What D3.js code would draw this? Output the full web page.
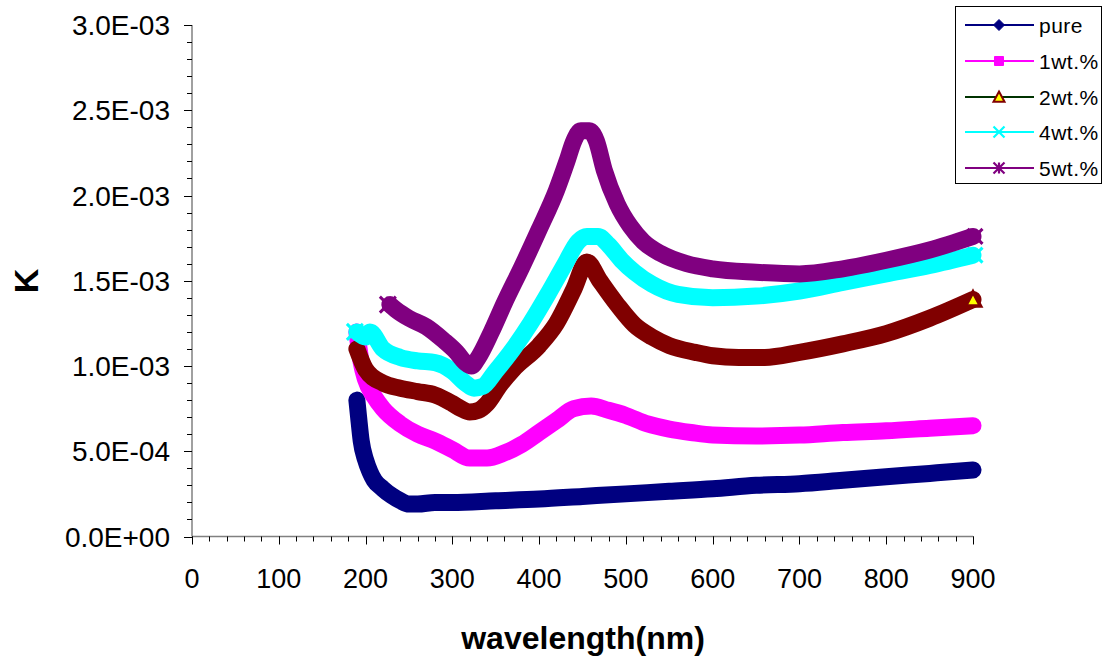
<!DOCTYPE html>
<html>
<head>
<meta charset="utf-8">
<script src="https://cdn.jsdelivr.net/npm/d3@7"></script>
<style>
  body { margin: 0; background: #fff; }
  svg { display: block; font-family: "Liberation Sans", Arial, sans-serif; }
</style>
</head>
<body>
<svg id="chart" width="1104" height="659"></svg>
<script>
// Extinction coefficient K (in units of 1E-03) against wavelength (nm)
const pureWl = [190, 192, 195, 200, 205, 210, 220, 230, 240, 250, 260, 280, 300, 350, 400, 450, 500, 550, 600, 650, 700, 750, 800, 850, 900];
const pureK  = [0.80, 0.70, 0.56, 0.45, 0.38, 0.33, 0.28, 0.24, 0.21, 0.19, 0.19, 0.20, 0.20, 0.21, 0.22, 0.235, 0.25, 0.265, 0.28, 0.30, 0.31, 0.33, 0.35, 0.37, 0.39];

const wt1Wl = [190, 195, 200, 210, 220, 240, 260, 280, 300, 320, 340, 360, 380, 400, 420, 440, 460, 480, 500, 525, 550, 575, 600, 650, 700, 750, 800, 850, 900];
const wt1K  = [1.20, 1.02, 0.92, 0.82, 0.75, 0.66, 0.60, 0.56, 0.51, 0.46, 0.46, 0.49, 0.54, 0.61, 0.68, 0.75, 0.765, 0.74, 0.71, 0.66, 0.63, 0.61, 0.595, 0.59, 0.595, 0.61, 0.62, 0.635, 0.65];

const wt2Wl = [190, 200, 220, 240, 260, 280, 300, 310, 320, 330, 340, 355, 370, 400, 420, 440, 455, 470, 490, 510, 530, 550, 580, 600, 630, 660, 700, 750, 800, 850, 900];
const wt2K  = [1.10, 0.98, 0.90, 0.87, 0.85, 0.83, 0.78, 0.75, 0.73, 0.74, 0.78, 0.89, 0.98, 1.12, 1.25, 1.45, 1.61, 1.50, 1.36, 1.24, 1.17, 1.12, 1.08, 1.06, 1.05, 1.05, 1.08, 1.13, 1.19, 1.28, 1.39];

const wt4Wl = [190, 200, 205, 220, 240, 260, 280, 300, 315, 325, 335, 350, 370, 390, 410, 430, 445, 455, 468, 480, 495, 510, 530, 560, 600, 650, 700, 750, 800, 850, 900];
const wt4K  = [1.20, 1.17, 1.20, 1.10, 1.05, 1.03, 1.02, 0.97, 0.90, 0.87, 0.88, 0.97, 1.10, 1.25, 1.42, 1.60, 1.73, 1.76, 1.76, 1.71, 1.62, 1.55, 1.48, 1.42, 1.40, 1.41, 1.44, 1.49, 1.54, 1.59, 1.65];

const wt5Wl = [228, 235, 250, 270, 290, 305, 315, 322, 330, 345, 360, 380, 400, 420, 432, 440, 448, 458, 466, 475, 490, 505, 520, 540, 570, 600, 650, 700, 750, 800, 850, 900];
const wt5K  = [1.36, 1.33, 1.28, 1.23, 1.15, 1.08, 1.02, 1.00, 1.05, 1.20, 1.37, 1.58, 1.80, 2.03, 2.20, 2.32, 2.38, 2.38, 2.32, 2.15, 1.95, 1.82, 1.73, 1.66, 1.60, 1.57, 1.55, 1.54, 1.57, 1.62, 1.68, 1.76];

const seriesNames = ["pure", "1wt.%", "2wt.%", "4wt.%", "5wt.%"];

const xTicks = [0, 100, 200, 300, 400, 500, 600, 700, 800, 900];
const xTickLabels = ["0", "100", "200", "300", "400", "500", "600", "700", "800", "900"];
const yTicks = [0, 0.0005, 0.001, 0.0015, 0.002, 0.0025, 0.003];
const yTickLabels = ["0.0E+00", "5.0E-04", "1.0E-03", "1.5E-03", "2.0E-03", "2.5E-03", "3.0E-03"];

// series styling
const styles = [
  { band: "#000080", line: "#000080", marker: "diamond",  mStroke: "#000080", mFill: "#000080" },
  { band: "#FF00FF", line: "#FF00FF", marker: "square",   mStroke: "#FF00FF", mFill: "#FF00FF" },
  { band: "#800000", line: "#003300", marker: "triangle", mStroke: "#800000", mFill: "#FFFF00" },
  { band: "#00FFFF", line: "#00FFFF", marker: "x",        mStroke: "#00FFFF", mFill: "none" },
  { band: "#800080", line: "#800080", marker: "star",     mStroke: "#800080", mFill: "none" }
];

const series = [
  { wl: pureWl, k: pureK },
  { wl: wt1Wl,  k: wt1K },
  { wl: wt2Wl,  k: wt2K },
  { wl: wt4Wl,  k: wt4K },
  { wl: wt5Wl,  k: wt5K }
].map((s, i) => ({
  name: seriesNames[i],
  style: styles[i],
  points: s.wl.map((w, j) => ({ x: w, y: s.k[j] * 1e-3 }))
}));

const svg = d3.select("#chart");

const x = d3.scaleLinear().domain([0, 900]).range([192, 973]);
const y = d3.scaleLinear().domain([0, 0.003]).range([536.5, 25]);

const axisColor = "#808080";

// minor ticks
const yMinor = d3.range(0, 0.0030001, 0.0001);
const xMinor = d3.range(0, 901, 20);

const gY = svg.append("g");
gY.append("line")
  .attr("x1", x(0)).attr("x2", x(0))
  .attr("y1", y(0.003)).attr("y2", y(0))
  .attr("stroke", axisColor).attr("stroke-width", 1.5);
gY.selectAll("line.minor").data(yMinor).join("line")
  .attr("class", "minor")
  .attr("x1", x(0) - 5).attr("x2", x(0))
  .attr("y1", d => Math.round(y(d)) + 0.5).attr("y2", d => Math.round(y(d)) + 0.5)
  .attr("stroke", "#000").attr("stroke-width", 1);
gY.selectAll("line.major").data(yTicks).join("line")
  .attr("class", "major")
  .attr("x1", x(0) - 8).attr("x2", x(0))
  .attr("y1", d => Math.round(y(d)) + 0.5).attr("y2", d => Math.round(y(d)) + 0.5)
  .attr("stroke", "#000").attr("stroke-width", 1);
gY.selectAll("text").data(yTicks).join("text")
  .attr("x", 170).attr("y", d => y(d))
  .attr("dy", "0.36em")
  .attr("text-anchor", "end")
  .attr("font-size", 28)
  .attr("fill", "#000")
  .text((d, i) => yTickLabels[i]);

const gX = svg.append("g");
gX.append("line")
  .attr("x1", x(0)).attr("x2", x(900))
  .attr("y1", y(0)).attr("y2", y(0))
  .attr("stroke", axisColor).attr("stroke-width", 1.5);
gX.selectAll("line.minor").data(xMinor).join("line")
  .attr("class", "minor")
  .attr("x1", d => Math.round(x(d)) + 0.5).attr("x2", d => Math.round(x(d)) + 0.5)
  .attr("y1", y(0)).attr("y2", y(0) + 5)
  .attr("stroke", "#000").attr("stroke-width", 1);
gX.selectAll("line.major").data(xTicks).join("line")
  .attr("class", "major")
  .attr("x1", d => Math.round(x(d)) + 0.5).attr("x2", d => Math.round(x(d)) + 0.5)
  .attr("y1", y(0)).attr("y2", y(0) + 8)
  .attr("stroke", "#000").attr("stroke-width", 1);
gX.selectAll("text").data(xTicks).join("text")
  .attr("x", d => x(d)).attr("y", 588)
  .attr("text-anchor", "middle")
  .attr("font-size", 27)
  .attr("fill", "#000")
  .text((d, i) => xTickLabels[i]);

// axis titles
svg.append("text")
  .attr("x", 583).attr("y", 649)
  .attr("text-anchor", "middle")
  .attr("font-size", 32).attr("font-weight", "bold")
  .text("wavelength(nm)");
svg.append("text")
  .attr("transform", "translate(38,281) rotate(-90)")
  .attr("text-anchor", "middle")
  .attr("font-size", 34).attr("font-weight", "bold")
  .text("K");

// marker shapes
function markerPath(type, s) {
  const h = s / 2;
  switch (type) {
    case "diamond":  return `M0,${-h}L${h},0L0,${h}L${-h},0Z`;
    case "square":   return `M${-h},${-h}H${h}V${h}H${-h}Z`;
    case "triangle": return `M0,${-h}L${h},${h * 0.85}L${-h},${h * 0.85}Z`;
    case "x":        return `M${-h},${-h}L${h},${h}M${h},${-h}L${-h},${h}`;
    case "star":     return `M${-h},${-h}L${h},${h}M${h},${-h}L${-h},${h}M0,${-h}V${h}`;
  }
}
function drawMarker(g, st, cx, cy, size, sw) {
  const open = st.marker === "x" || st.marker === "star";
  g.append("path")
    .attr("transform", `translate(${cx},${cy})`)
    .attr("d", markerPath(st.marker, size))
    .attr("fill", open ? "none" : st.mFill)
    .attr("stroke", st.mStroke)
    .attr("stroke-width", sw)
    .attr("stroke-linejoin", "miter");
}

// data bands (densely packed markers form a thick trace)
const line = d3.line()
  .x(d => x(d.x)).y(d => y(d.y))
  .curve(d3.curveMonotoneX);

const plot = svg.append("g");
series.forEach(s => {
  plot.append("path")
    .attr("d", line(s.points))
    .attr("fill", "none")
    .attr("stroke", s.style.band)
    .attr("stroke-width", 17)
    .attr("stroke-linejoin", "round")
    .attr("stroke-linecap", "round");
  const first = s.points[0];
  const last = s.points[s.points.length - 1];
  const st = s.style;
  if (st.marker === "triangle") {
    drawMarker(plot, st, x(last.x), y(last.y), 15, 3.5);
  } else if (st.marker === "x" || st.marker === "star") {
    drawMarker(plot, st, x(first.x) - 2, y(first.y), 16, 3);
    drawMarker(plot, st, x(last.x) + 2, y(last.y), 15, 3);
  }
});

// legend
const lg = svg.append("g");
lg.append("rect")
  .attr("x", 955.5).attr("y", 6.5).attr("width", 146).attr("height", 177)
  .attr("fill", "#fff").attr("stroke", "#000").attr("stroke-width", 1);
const legendY = [25, 61, 97, 132, 168];
series.forEach((s, i) => {
  const yy = legendY[i];
  lg.append("line")
    .attr("x1", 965).attr("x2", 1034).attr("y1", yy).attr("y2", yy)
    .attr("stroke", s.style.line).attr("stroke-width", 2);
  const sz = s.style.marker === "square" ? 9 : 11;
  drawMarker(lg, s.style, 999, yy, sz, s.style.marker === "triangle" ? 2 : (s.style.marker === "x" || s.style.marker === "star") ? 2.2 : 1);
  lg.append("text")
    .attr("x", 1039).attr("y", yy).attr("dy", "0.36em")
    .attr("font-size", 21).attr("letter-spacing", 0.5)
    .text(s.name);
});
</script>
</body>
</html>
